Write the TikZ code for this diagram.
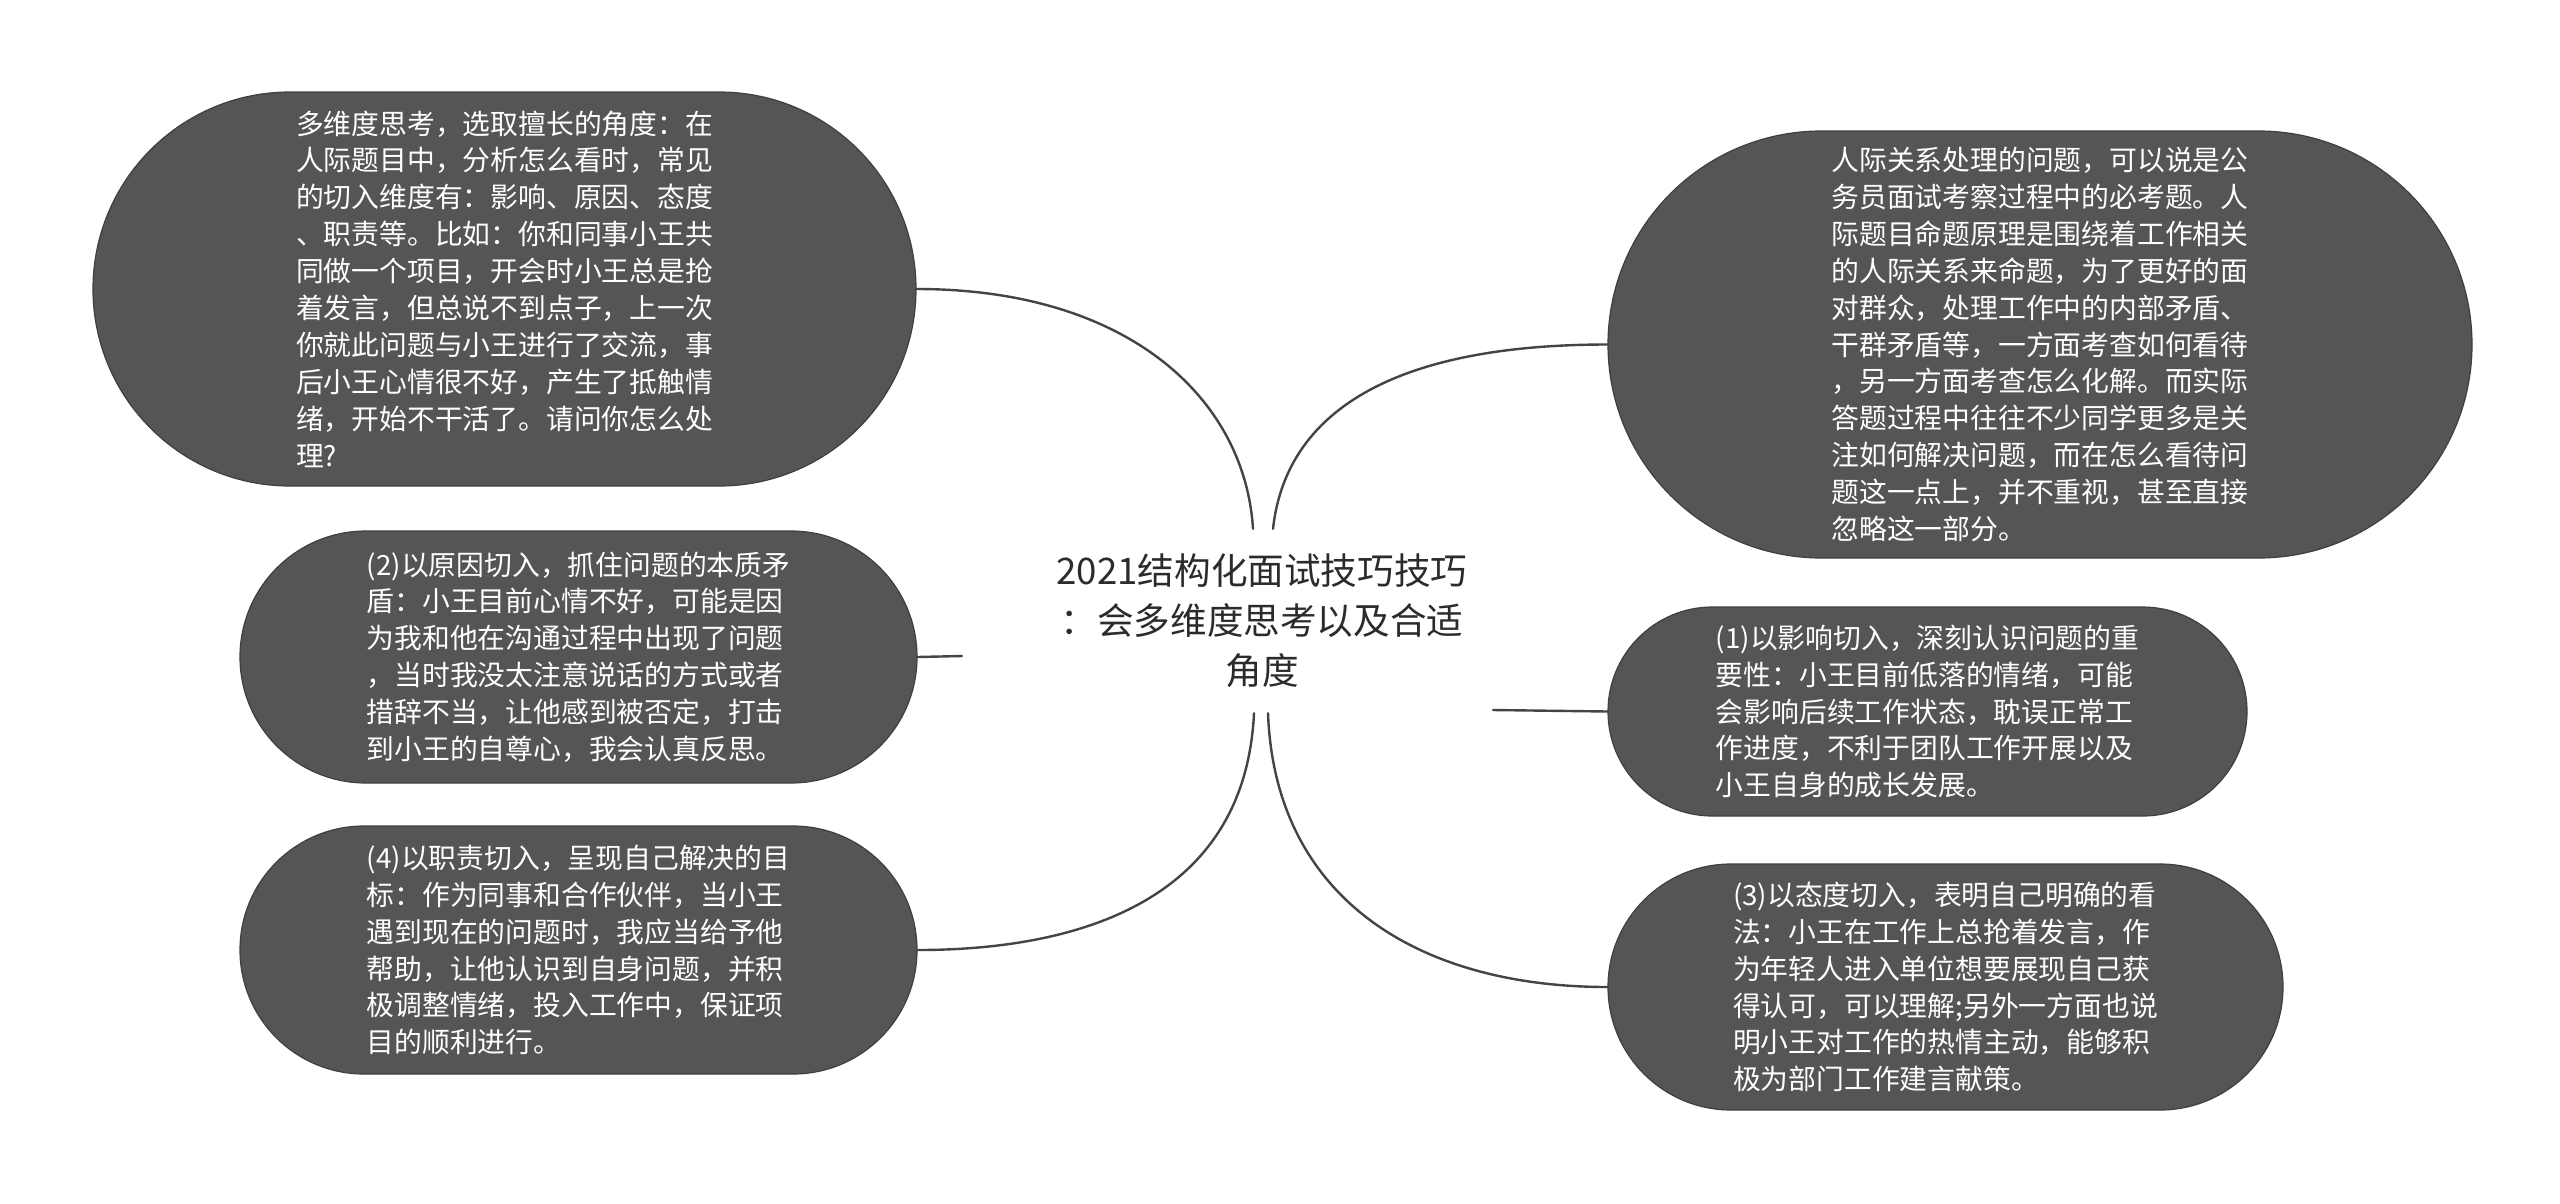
\documentclass[tikz,border=0pt]{standalone}
\usepackage{fontspec}
\newfontfamily\cjkfont{Noto Sans CJK SC}
\definecolor{pillfill}{HTML}{555555}
\definecolor{pillline}{HTML}{3F3F3F}
\definecolor{linkcol}{HTML}{444444}
\definecolor{roottext}{HTML}{2B2B2B}
\tikzset{
  pill/.style={draw=pillline, line width=1.2pt, fill=pillfill, rectangle,
    text=white, align=left, inner sep=0pt,
    font=\cjkfont\fontsize{27.8}{36.9}\selectfont},
  link/.style={draw=linkcol, line width=2.4pt, line cap=round},
  roottxt/.style={text=roottext, align=center, inner sep=0pt,
    minimum height=184pt, font=\cjkfont\fontsize{36.6}{50}\selectfont}
}
\begin{document}
\begin{tikzpicture}[x=1pt,y=-1pt]
\fill[white] (0,0) rectangle (2560,1203);
\useasboundingbox (0,0) rectangle (2560,1203);

% root
\node[roottxt] (root) at (1262,621) {2021结构化面试技巧技巧\\：会多维度思考以及合适\\角度};

% left nodes
\node[pill, minimum width=823pt, minimum height=394pt, rounded corners=197pt] (A) at (504.5,289)
{多维度思考，选取擅长的角度：在\\人际题目中，分析怎么看时，常见\\的切入维度有：影响、原因、态度\\、职责等。比如：你和同事小王共\\同做一个项目，开会时小王总是抢\\着发言，但总说不到点子，上一次\\你就此问题与小王进行了交流，事\\后小王心情很不好，产生了抵触情\\绪，开始不干活了。请问你怎么处\\理?};

\node[pill, minimum width=677pt, minimum height=252pt, rounded corners=126pt] (C) at (578.5,657)
{(2)以原因切入，抓住问题的本质矛\\盾：小王目前心情不好，可能是因\\为我和他在沟通过程中出现了问题\\，当时我没太注意说话的方式或者\\措辞不当，让他感到被否定，打击\\到小王的自尊心，我会认真反思。};

\node[pill, minimum width=677pt, minimum height=248pt, rounded corners=124pt] (D) at (578.5,950)
{(4)以职责切入，呈现自己解决的目\\标：作为同事和合作伙伴，当小王\\遇到现在的问题时，我应当给予他\\帮助，让他认识到自身问题，并积\\极调整情绪，投入工作中，保证项\\目的顺利进行。};

% right nodes
\node[pill, minimum width=864pt, minimum height=427pt, rounded corners=213.5pt] (B) at (2040,344.5)
{人际关系处理的问题，可以说是公\\务员面试考察过程中的必考题。人\\际题目命题原理是围绕着工作相关\\的人际关系来命题，为了更好的面\\对群众，处理工作中的内部矛盾、\\干群矛盾等，一方面考查如何看待\\，另一方面考查怎么化解。而实际\\答题过程中往往不少同学更多是关\\注如何解决问题，而在怎么看待问\\题这一点上，并不重视，甚至直接\\忽略这一部分。};

\node[pill, minimum width=639pt, minimum height=209pt, rounded corners=104.5pt] (E) at (1927.5,711.5)
{(1)以影响切入，深刻认识问题的重\\要性：小王目前低落的情绪，可能\\会影响后续工作状态，耽误正常工\\作进度，不利于团队工作开展以及\\小王自身的成长发展。};

\node[pill, minimum width=675pt, minimum height=246pt, rounded corners=123pt] (F) at (1945.5,987)
{(3)以态度切入，表明自己明确的看\\法：小王在工作上总抢着发言，作\\为年轻人进入单位想要展现自己获\\得认可，可以理解;另外一方面也说\\明小王对工作的热情主动，能够积\\极为部门工作建言献策。};

% free ends of the two short connectors
\coordinate (cfree) at (962,656);
\coordinate (efree) at (1493,710);

% connectors
\draw[link] (A.east) .. controls (1130,289) and (1245,400) .. ([xshift=-9pt]root.north);
\draw[link] ([xshift=11pt]root.north) .. controls (1285,420) and (1380,344.5) .. (B.west);
\draw[link] (C.east) -- (cfree);
\draw[link] (efree) -- (E.west);
\draw[link] ([xshift=-8pt]root.south) .. controls (1245,900) and (1080,950) .. (D.east);
\draw[link] ([xshift=6pt]root.south) .. controls (1275,900) and (1420,987) .. (F.west);
\end{tikzpicture}
\end{document}
